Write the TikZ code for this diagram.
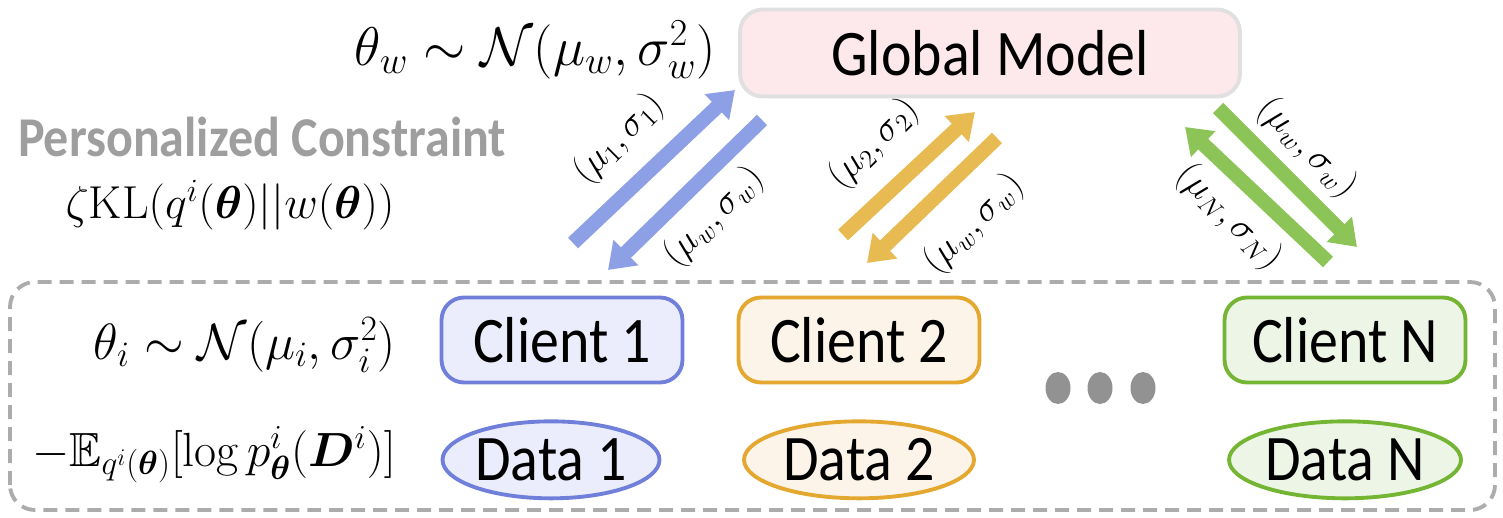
\RequirePackage{fix-cm}
\documentclass[tikz,border=0pt]{standalone}
\usepackage{amsmath,amssymb}
\usepackage{bm}
\usepackage{fontspec}
\newfontfamily\labfont[FakeStretch=0.89]{Carlito}
\usepackage{tikz}
\usetikzlibrary{positioning}
\usetikzlibrary{arrows.meta}
\usetikzlibrary{shapes}
\definecolor{myblue}{RGB}{112,128,218}
\definecolor{myblueA}{RGB}{141,160,230}
\definecolor{myblueF}{RGB}{236,237,252}
\definecolor{myorange}{RGB}{228,168,48}
\definecolor{myorangeA}{RGB}{232,186,82}
\definecolor{myorangeF}{RGB}{253,244,233}
\definecolor{mygreen}{RGB}{116,182,52}
\definecolor{mygreenA}{RGB}{140,196,88}
\definecolor{mygreenF}{RGB}{237,245,231}
\definecolor{mypink}{RGB}{253,232,236}
\definecolor{mygray}{RGB}{172,172,172}
\tikzset{client node/.style={rectangle,rounded corners=0.45cm,draw,line width=2.2pt,minimum width=4.82cm,minimum height=1.7cm,inner sep=0pt,font=\labfont\fontsize{37}{40}\selectfont},
	data node/.style={ellipse,draw,line width=2.2pt,minimum width=4.4cm,minimum height=1.54cm,inner sep=0pt,font=\labfont\fontsize{37}{40}\selectfont},
	dot node/.style={ellipse,fill=mygray!85!black,minimum width=0.5cm,minimum height=0.64cm,inner sep=0pt},
	flow/.style={line width=0.29cm,-{Triangle[length=0.5cm,width=0.68cm]}},
	para/.style={font=\fontsize{21}{24}\selectfont},
	formula/.style={font=\fontsize{31}{34}\selectfont},}

\begin{document}
\begin{tikzpicture}[x=0.02cm,y=0.02cm]
	\useasboundingbox (0,0) rectangle (1503,517);
	\draw[mygray,line width=2.2pt,dash pattern=on 0.28cm off 0.16cm,rounded corners=0.5cm] (10,7) rectangle (1495,235);

	\node[rectangle,rounded corners=0.45cm,draw=black!12,fill=mypink,line width=2.2pt,minimum width=10cm,minimum height=1.74cm,font=\labfont\fontsize{37}{40}\selectfont] (global) at (990,464) {Global Model};
	\node[formula,anchor=east] (thetaw) at (722,467) {$\theta_w \sim \mathcal{N}(\mu_w,\sigma_w^2)$};
	\node[font=\labfont\bfseries\fontsize{32}{36}\selectfont,text=black!38] (constraint) at (262,380) {Personalized Constraint};
	\node[formula,font=\fontsize{26.3}{30}\selectfont] (kl) at (230,312) {$\zeta\mathrm{KL}(q^i(\bm{\theta})||w(\bm{\theta}))$};

	\node[client node,draw=myblue,fill=myblueF] (c1) at (562,177) {Client 1};
	\node[client node,draw=myorange,fill=myorangeF] (c2) at (859,177) {Client 2};
	\node[client node,draw=mygreen,fill=mygreenF] (cN) at (1345,177) {Client N};
	\node[data node,draw=myblue,fill=myblueF,minimum width=4.34cm] (d1) [below=0.7cm of c1,xshift=-0.22cm] {Data 1};
	\node[data node,draw=myorange,fill=myorangeF,minimum width=4.6cm] (d2) [below=0.7cm of c2] {Data 2};
	\node[data node,draw=mygreen,fill=mygreenF,minimum width=4.64cm] (dN) [below=0.7cm of cN] {Data N};
	\foreach \i/\x in {1/1058,2/1100,3/1143}
		\node[dot node] (dot\i) at (\x,129) {};

	\node[formula,font=\fontsize{29}{32}\selectfont,anchor=east] (thetai) at (402,172) {$\theta_i \sim \mathcal{N}(\mu_i,\sigma_i^2)$};
	\node[formula,font=\fontsize{27.3}{30}\selectfont,anchor=east] (loss) at (402,62) {$-\mathbb{E}_{q^i(\bm{\theta})}[\log p^i_{\bm{\theta}}(\bm{D}^i)]$};

	\coordinate (b1) at (573,274); \coordinate (b2) at (735,427);
	\coordinate (b3) at (762,397); \coordinate (b4) at (608,247);
	\coordinate (o1) at (843,282); \coordinate (o2) at (975,405);
	\coordinate (o3) at (997,379); \coordinate (o4) at (867,254);
	\coordinate (g1) at (1218,409); \coordinate (g2) at (1357,270);
	\coordinate (g3) at (1328,255); \coordinate (g4) at (1185,390);

	\draw[flow,myblueA] (b1) -- (b2);
	\draw[flow,myblueA] (b3) -- (b4);
	\draw[flow,myorangeA] (o1) -- (o2);
	\draw[flow,myorangeA] (o3) -- (o4);
	\draw[flow,mygreenA] (g1) -- (g2);
	\draw[flow,mygreenA] (g3) -- (g4);

	\node[para,rotate=45] (up1) at (619,378) {$(\mu_1,\sigma_1)$};
	\node[para,rotate=45] (down1) at (714,300) {$(\mu_w,\sigma_w)$};
	\node[para,rotate=45] (up2) at (874,373) {$(\mu_2,\sigma_2)$};
	\node[para,rotate=45] (down2) at (974,293) {$(\mu_w,\sigma_w)$};
	\node[para,rotate=-45] (downN) at (1307,369) {$(\mu_w,\sigma_w)$};
	\node[para,rotate=-45] (upN) at (1229,300) {$(\mu_N,\sigma_N)$};
\end{tikzpicture}
\end{document}
